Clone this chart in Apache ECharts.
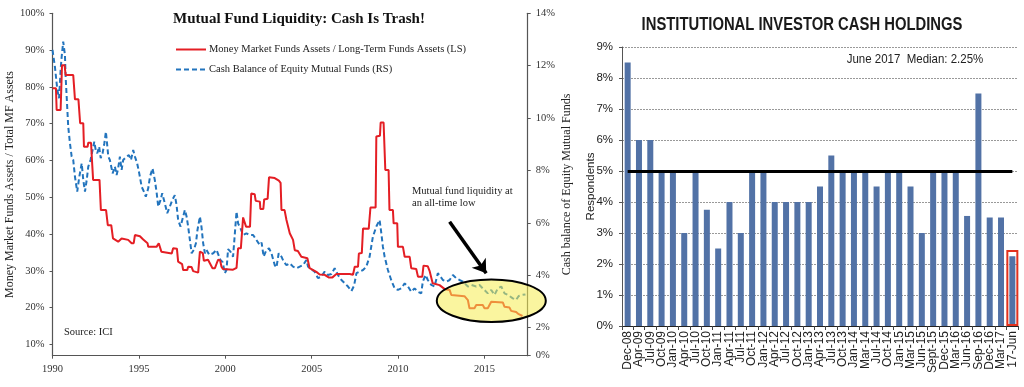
<!DOCTYPE html>
<html>
<head>
<meta charset="utf-8">
<script src="https://cdn.jsdelivr.net/npm/echarts@6/dist/echarts.min.js"></script>
<style>
html,body{margin:0;padding:0;background:#fff;}
#chart{width:1024px;height:387px;}
</style>
</head>
<body>
<div id="chart"></div>
<script>
// ---------- Left chart data ----------
// Money Market Funds Assets / Long-Term Funds Assets (LS), %
const mmfYears = [1990.0,1990.2,1990.24,1990.47,1990.55,1990.7,1990.76,1991.2,1991.3,1991.5,1991.6,1991.78,1991.82,1992.03,1992.07,1992.23,1992.3,1992.35,1992.72,1992.8,1993.1,1993.2,1993.4,1993.5,1993.8,1994.0,1994.38,1994.58,1994.7,1994.77,1995.06,1995.25,1995.5,1995.54,1996.02,1996.15,1996.25,1996.3,1996.9,1996.98,1997.2,1997.27,1997.5,1997.56,1997.8,1997.85,1998.05,1998.14,1998.43,1998.53,1998.7,1998.76,1999.0,1999.1,1999.26,1999.4,1999.58,1999.7,1999.78,1999.86,2000.45,2000.65,2000.74,2000.9,2001.03,2001.13,2001.2,2001.43,2001.5,2001.7,2001.76,2002.0,2002.03,2002.2,2002.25,2002.45,2002.53,2002.86,2003.1,2003.2,2003.25,2003.43,2003.54,2003.65,2003.73,2003.92,2004.02,2004.2,2004.4,2004.75,2004.88,2005.27,2005.46,2005.75,2005.98,2006.2,2006.43,2007.2,2007.39,2007.49,2007.68,2007.73,2007.9,2007.97,2008.3,2008.4,2008.7,2008.74,2008.95,2008.99,2009.16,2009.26,2009.45,2009.5,2009.7,2009.74,2009.95,2009.99,2010.28,2010.38,2010.67,2010.76,2011.05,2011.15,2011.4,2011.47,2011.72,2011.82,2011.92,2012.0,2012.4,2012.5,2012.7,2012.98,2013.08,2013.84,2014.04,2014.13,2014.42,2014.52,2014.9,2015.0,2015.19,2015.39,2016.06,2016.16,2016.45,2016.54,2016.83,2016.98,2017.2];
const mmfValues = [79.6,79.6,73.7,73.7,85.9,85.9,83.2,83.2,76.6,76.6,70.1,70.1,63.7,63.7,64.8,64.8,58.8,54.7,54.7,46.5,46.5,42.4,42.4,38.8,37.9,38.8,38.4,37.5,37.5,39.7,39.4,38.5,37.5,36.5,36.5,37.5,37.3,35.2,34.7,36.1,36.0,32.5,31.8,30.2,30.2,31.1,31.0,29.9,29.5,35.2,34.8,32.7,33.0,33.4,30.7,30.7,33.0,32.8,31.1,30.5,30.3,30.8,36.1,36.1,44.5,44.3,42.0,42.0,51.0,50.8,49.0,48.8,46.8,46.8,49.4,49.6,55.4,55.2,54.5,53.9,46.5,46.5,43.8,43.8,40.2,38.4,35.6,35.4,33.8,33.4,30.7,29.7,29.0,28.9,28.2,28.2,29.1,29.1,28.9,31.1,31.1,34.7,34.8,41.5,41.4,47.2,47.2,66.5,66.7,70.3,70.3,57.4,57.4,46.5,46.5,42.9,42.9,36.5,36.5,33.8,33.8,30.7,30.5,28.4,28.4,31.4,31.2,30.0,29.8,26.6,26.1,25.6,25.0,24.8,23.4,23.1,22.0,19.8,19.8,20.7,20.7,19.8,19.8,21.6,21.4,20.2,20.0,19.1,18.8,18.2,17.7];

// Cash Balance of Equity Mutual Funds (RS), %
const cashYears = [1990.0,1990.14,1990.28,1990.38,1990.47,1990.53,1990.62,1990.72,1990.76,1990.82,1990.91,1991.01,1991.11,1991.2,1991.3,1991.43,1991.55,1991.69,1991.78,1991.88,1991.98,1992.07,1992.2,1992.32,1992.42,1992.5,1992.59,1992.7,1992.79,1992.9,1993.0,1993.09,1993.23,1993.32,1993.48,1993.61,1993.71,1993.8,1993.9,1994.0,1994.09,1994.29,1994.42,1994.54,1994.67,1994.77,1994.9,1995.02,1995.16,1995.29,1995.4,1995.54,1995.64,1995.79,1995.92,1996.02,1996.12,1996.25,1996.35,1996.5,1996.64,1996.79,1996.93,1997.08,1997.18,1997.27,1997.41,1997.66,1997.76,1997.85,1997.95,1998.05,1998.18,1998.3,1998.39,1998.53,1998.62,1998.72,1998.82,1998.91,1999.07,1999.3,1999.49,1999.58,1999.72,1999.85,1999.97,2000.07,2000.16,2000.3,2000.45,2000.65,2000.74,2000.88,2001.03,2001.22,2001.42,2001.61,2001.8,2001.99,2002.1,2002.22,2002.38,2002.53,2002.67,2002.86,2002.96,2003.09,2003.25,2003.38,2003.54,2003.73,2003.92,2004.12,2004.31,2004.5,2004.69,2004.79,2004.98,2005.17,2005.36,2005.56,2005.75,2005.94,2006.14,2006.33,2006.52,2006.72,2006.91,2007.1,2007.3,2007.45,2007.59,2007.77,2007.97,2008.16,2008.35,2008.54,2008.74,2008.93,2009.03,2009.12,2009.22,2009.41,2009.6,2009.8,2009.99,2010.18,2010.38,2010.57,2010.76,2010.95,2011.15,2011.34,2011.43,2011.59,2011.72,2011.92,2012.11,2012.3,2012.45,2012.59,2012.8,2012.98,2013.17,2013.36,2013.55,2013.75,2014.04,2014.25,2014.52,2014.71,2014.9,2015.19,2015.39,2015.58,2015.77,2015.97,2016.16,2016.35,2016.64,2016.83,2016.98,2017.18,2017.37];
const cashValues = [12.6,11.96,11.07,10.76,11.84,12.34,12.92,12.41,11.58,10.82,9.67,9.04,8.53,8.4,7.76,7.19,7.76,8.27,7.64,7.19,7.64,8.15,8.4,8.78,9.1,8.78,8.66,8.91,8.47,8.66,9.04,9.48,8.53,8.4,7.89,8.15,7.83,8.08,8.53,8.02,8.4,8.53,8.59,8.4,8.78,8.53,8.27,7.89,7.38,7.19,7.0,7.32,7.76,8.08,7.64,7.19,6.62,6.87,7.13,6.75,6.37,6.62,6.87,7.06,6.68,6.11,5.86,6.49,6.24,5.86,5.35,4.84,4.97,5.22,5.73,6.24,5.86,5.22,4.84,4.97,4.78,4.84,4.97,4.97,4.58,4.5,4.08,4.2,5.0,4.9,4.71,6.43,5.98,5.79,5.54,5.6,5.54,5.54,5.35,5.16,5.25,4.71,4.97,5.03,4.84,4.39,4.3,4.84,4.71,4.52,4.39,4.46,4.33,4.27,4.33,4.39,4.58,4.33,4.23,4.14,3.89,3.95,4.14,4.01,4.05,4.27,4.01,3.82,3.7,3.57,3.4,3.6,4.08,4.14,4.2,4.33,4.71,5.47,5.86,6.11,5.6,5.09,4.71,4.2,3.82,3.5,3.44,3.5,3.69,3.57,3.37,3.5,3.37,3.31,3.76,4.01,3.82,3.63,3.57,4.08,3.95,3.82,3.76,3.82,4.01,3.89,3.82,3.76,3.57,3.63,3.57,3.63,3.5,3.31,3.44,3.25,3.5,3.57,3.31,3.25,3.12,3.06,3.21,3.25,3.27];

const yearTicks = [1990, 1995, 2000, 2005, 2010, 2015];
const leftTicks = [10, 20, 30, 40, 50, 60, 70, 80, 90, 100];
const rightTicks = [2, 4, 6, 8, 10, 12, 14];
const leftAxisMin = 6.91;
const rightAxisMin = 0.93;   // bottom of the right axis, labelled "0%" in the source
const arrowFrom = [2012.98, 43.3];
const arrowTo = [2015.1, 29.3];

// ---------- Right chart data ----------
const surveyCategories = ['Dec-08','Apr-09','Jul-09','Oct-09','Jan-10','Apr-10','Jul-10','Oct-10','Jan-11','Apr-11','Jul-11','Oct-11','Jan-12','Apr-12','Jul-12','Oct-12','Jan-13','Apr-13','Jul-13','Oct-13','Jan-14','Mar-14','Jul-14','Oct-14','Jan-15','Mar-15','Jun-15','Sept-15','Dec-15','Mar-16','Jun-16','Sep-16','Dec-16','Mar-17','17-Jun'];
const surveyValues = [8.5,6,6,5,5,3,5,3.75,2.5,4,3,5,5,4,4,4,4,4.5,5.5,5,5,5,4.5,5,5,4.5,3,5,5,5,3.55,7.5,3.5,3.5,2.25];
const medianLine = 5;
const highlightValue = 2.45;

const serif = 'Liberation Serif';
const sans = 'Liberation Sans';
const redColor = '#e41e24';
const blueColor = '#2274bd';
const legendNames = ['Money Market Funds Assets / Long-Term Funds Assets (LS)', 'Cash Balance of Equity Mutual Funds (RS)'];

const chart = echarts.init(document.getElementById('chart'), null, {renderer: 'canvas'});

const option = {
  animation: false,
  backgroundColor: '#fff',
  grid: [
    {left: 52.5, right: 496.3, top: 13.3, bottom: 31.3, outerBoundsMode: 'none', containLabel: false},
    {left: 622, right: 6, top: 47, bottom: 61, outerBoundsMode: 'none', containLabel: false}
  ],
  xAxis: [
    {
      type: 'value', gridIndex: 0, min: 1990, max: 2017.5,
      axisLine: {lineStyle: {color: '#555', width: 1.2}},
      axisTick: {show: true, length: 3, customValues: yearTicks, lineStyle: {color: '#555'}},
      axisLabel: {customValues: yearTicks, formatter: v => String(v), fontFamily: serif, fontSize: 10.5, color: '#333', margin: 8},
      splitLine: {show: false}
    },
    {
      type: 'category', gridIndex: 1, data: surveyCategories,
      axisLine: {lineStyle: {color: '#222', width: 1.2}},
      axisTick: {show: true, length: 4, lineStyle: {color: '#444'}},
      axisLabel: {interval: 0, rotate: 90, fontFamily: sans, fontSize: 12, color: '#222', margin: 5},
      splitLine: {show: false}
    },
    {
      type: 'category', gridIndex: 1, data: surveyCategories, show: false
    }
  ],
  yAxis: [
    {
      type: 'value', gridIndex: 0, position: 'left', min: leftAxisMin, max: 100,
      name: 'Money Market Funds Assets / Total MF Assets', nameLocation: 'middle', nameRotate: 90, nameGap: 34,
      nameTextStyle: {fontFamily: serif, fontSize: 12, color: '#222'},
      axisLine: {show: true, lineStyle: {color: '#555', width: 1.2}},
      axisTick: {show: true, length: 3, customValues: leftTicks, lineStyle: {color: '#555'}},
      axisLabel: {customValues: leftTicks, formatter: v => v + '%', fontFamily: serif, fontSize: 10.5, color: '#333', margin: 8},
      splitLine: {show: false}
    },
    {
      type: 'value', gridIndex: 0, position: 'right', min: rightAxisMin, max: 14,
      name: 'Cash balance of Equity Mutual Funds', nameLocation: 'middle', nameRotate: 90, nameGap: 33,
      nameTextStyle: {fontFamily: serif, fontSize: 12, color: '#222'},
      axisLine: {show: true, lineStyle: {color: '#555', width: 1.2}},
      axisTick: {show: true, length: 3, customValues: [rightAxisMin].concat(rightTicks), lineStyle: {color: '#555'}},
      axisLabel: {customValues: [rightAxisMin].concat(rightTicks), formatter: v => (v < 1.5 ? 0 : v) + '%', fontFamily: serif, fontSize: 10.5, color: '#333', margin: 8},
      splitLine: {show: false}
    },
    {
      type: 'value', gridIndex: 1, min: 0, max: 9, interval: 1,
      name: 'Respondents', nameLocation: 'middle', nameRotate: 90, nameGap: 25, nameMoveOverlap: false,
      nameTextStyle: {fontFamily: sans, fontSize: 11.5, color: '#222'},
      axisLine: {show: true, lineStyle: {color: '#555', width: 1}},
      axisTick: {show: true, length: 3, lineStyle: {color: '#555'}},
      axisLabel: {formatter: v => v + '%', fontFamily: sans, fontSize: 11.5, color: '#222', margin: 9},
      splitLine: {show: true, lineStyle: {color: '#999', type: [2, 1], width: 1}}
    }
  ],
  series: [
    {
      name: legendNames[0],
      type: 'line', xAxisIndex: 0, yAxisIndex: 0, symbol: 'none', z: 3,
      lineStyle: {color: redColor, width: 2},
      itemStyle: {color: redColor},
      data: mmfYears.map((y, i) => [y, mmfValues[i]]),
      markLine: {
        silent: true, symbol: ['none', 'arrow'], symbolSize: 13,
        label: {show: false},
        lineStyle: {color: '#000', width: 3.5, type: 'solid'},
        data: [[{coord: arrowFrom}, {coord: arrowTo}]]
      }
    },
    {
      name: legendNames[1],
      type: 'line', xAxisIndex: 0, yAxisIndex: 1, symbol: 'none', z: 2,
      lineStyle: {color: blueColor, width: 2, type: [5, 3]},
      itemStyle: {color: blueColor},
      data: cashYears.map((y, i) => [y, cashValues[i]])
    },
    {
      name: 'Institutional cash', type: 'bar', xAxisIndex: 1, yAxisIndex: 2,
      barWidth: 6, itemStyle: {color: '#5272a6'},
      data: surveyValues,
      markLine: {
        silent: true, symbol: 'none', label: {show: false},
        lineStyle: {color: '#000', width: 3, type: 'solid'},
        data: [[{coord: [surveyCategories[0], medianLine]}, {coord: [surveyCategories[surveyCategories.length - 1], medianLine]}]]
      }
    },
    {
      name: 'Latest', type: 'bar', xAxisIndex: 2, yAxisIndex: 2, barWidth: 12, z: 4,
      itemStyle: {color: 'rgba(0,0,0,0)', borderColor: '#e2311d', borderWidth: 2},
      data: surveyValues.map((v, i) => i === surveyValues.length - 1 ? highlightValue : null)
    }
  ],
  graphic: [
    {type: 'text', x: 299, y: 19, z: 50,
     style: {text: 'Mutual Fund Liquidity: Cash Is Trash!', font: 'bold 15px "Liberation Serif"', fill: '#111', textAlign: 'center', textVerticalAlign: 'middle'}},
    // legend
    {type: 'line', z: 50, shape: {x1: 176, y1: 49.5, x2: 206, y2: 49.5}, style: {stroke: redColor, lineWidth: 2}},
    {type: 'text', x: 209, y: 49.5, z: 50,
     style: {text: legendNames[0], font: '10.5px "Liberation Serif"', fill: '#222', textAlign: 'left', textVerticalAlign: 'middle'}},
    {type: 'line', z: 50, shape: {x1: 176, y1: 69.5, x2: 206, y2: 69.5}, style: {stroke: blueColor, lineWidth: 2, lineDash: [5, 3]}},
    {type: 'text', x: 209, y: 69.5, z: 50,
     style: {text: legendNames[1], font: '10.5px "Liberation Serif"', fill: '#222', textAlign: 'left', textVerticalAlign: 'middle'}},
    {type: 'text', x: 64, y: 332, z: 50,
     style: {text: 'Source: ICI', font: '10.5px "Liberation Serif"', fill: '#222', textAlign: 'left', textVerticalAlign: 'middle'}},
    {type: 'text', x: 412, y: 185, z: 50,
     style: {text: 'Mutual fund liquidity at\nan all-time low', font: '10.5px "Liberation Serif"', lineHeight: 12, fill: '#222', textAlign: 'left', textVerticalAlign: 'top'}},
    {type: 'ellipse', z: 100,
     shape: {cx: 491.3, cy: 300.7, rx: 54.5, ry: 21.3},
     style: {fill: 'rgba(246,236,80,0.55)', stroke: '#000', lineWidth: 2}},
    {type: 'text', x: 802, y: 25, scaleX: 0.78, z: 50,
     style: {text: 'INSTITUTIONAL INVESTOR CASH HOLDINGS', font: 'bold 19px "Liberation Sans"', fill: '#1a1a1a', textAlign: 'center', textVerticalAlign: 'middle'}},
    {type: 'text', x: 915, y: 59, scaleX: 0.85, z: 50,
     style: {text: 'June 2017  Median: 2.25%', font: '13.5px "Liberation Sans"', fill: '#222', textAlign: 'center', textVerticalAlign: 'middle'}}
  ]
};
chart.setOption(option);
</script>
</body>
</html>
